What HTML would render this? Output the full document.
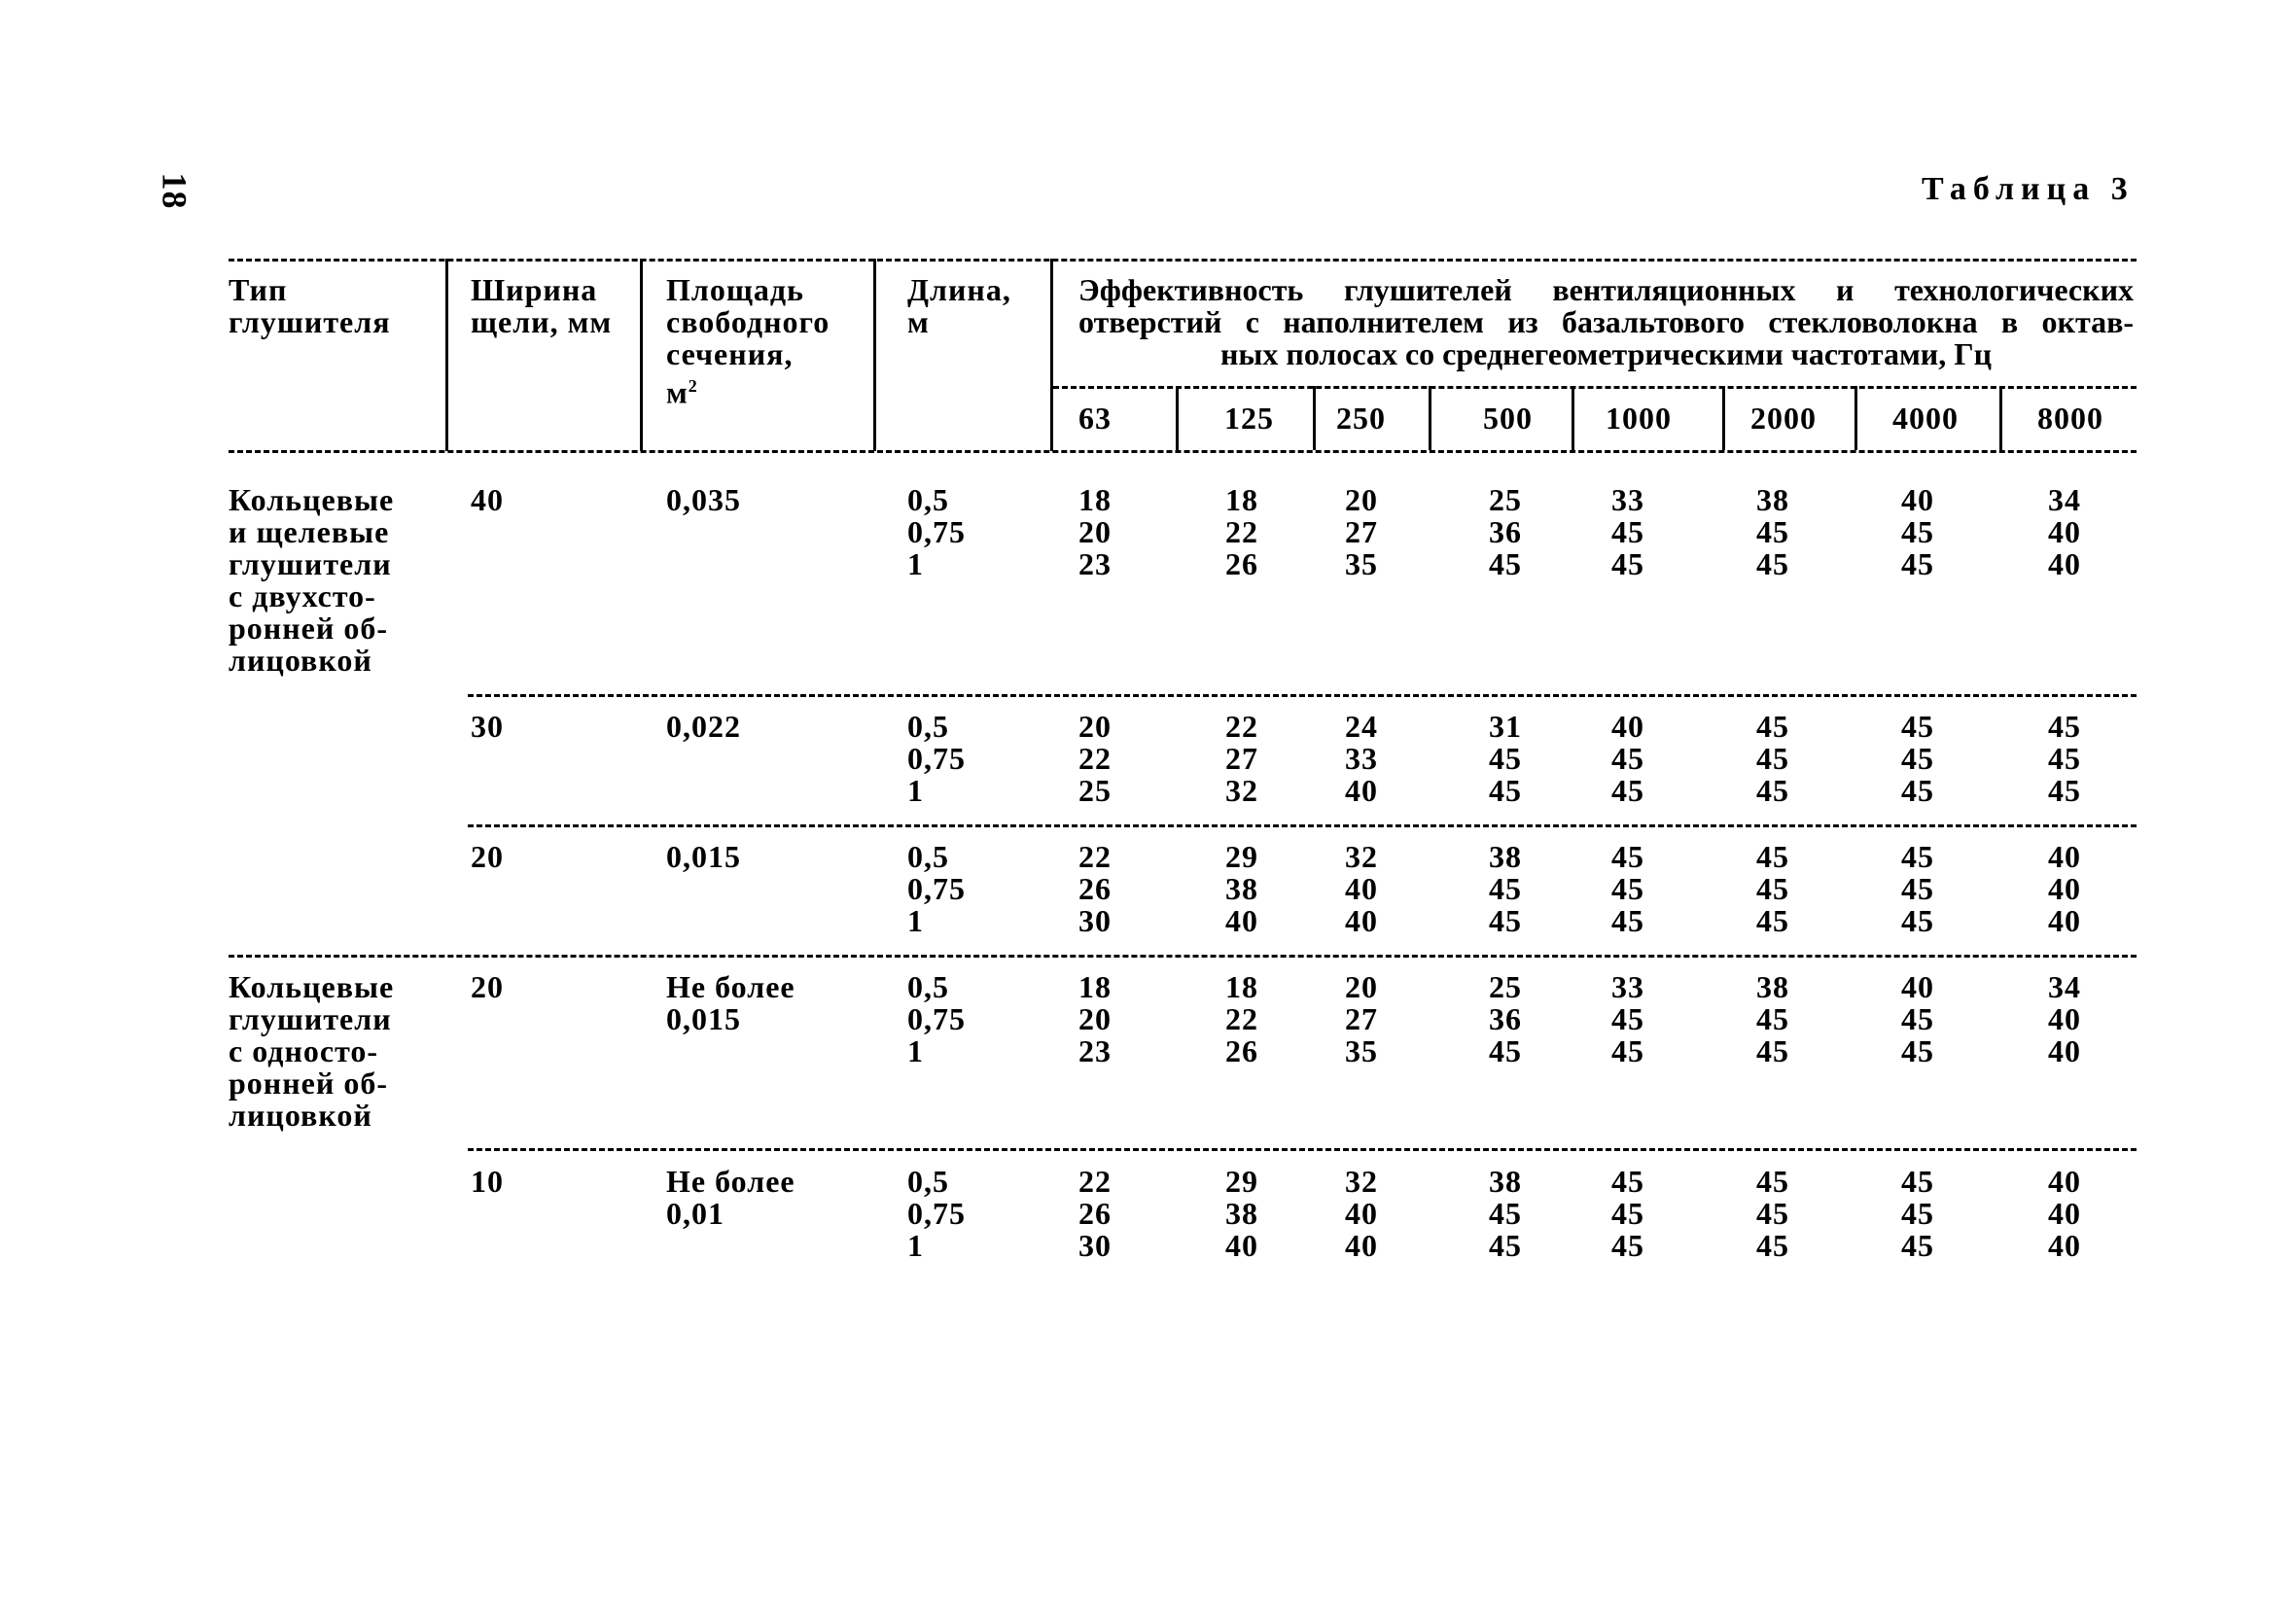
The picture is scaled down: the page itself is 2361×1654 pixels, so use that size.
<!DOCTYPE html>
<html><head><meta charset="utf-8">
<style>
html,body{margin:0;padding:0;background:#fff;}
body{width:2361px;height:1654px;position:relative;overflow:hidden;font-family:"Liberation Serif","Noto Serif CJK SC",serif;color:#000;}
.t{position:absolute;font-size:32px;line-height:33px;white-space:nowrap;letter-spacing:1px;font-weight:bold;}
.hd{position:absolute;height:0;border-top:3px dashed #000;}
.v{position:absolute;width:0;border-left:3px solid #000;}
</style></head><body>
<div class="t" style="left:160px;top:180px;transform:rotate(90deg);font-size:36px;">18</div>
<div class="t" style="left:1976px;top:178px;font-size:34px;letter-spacing:7px;">Таблица 3</div>

<div class="hd" style="left:235px;top:266px;width:1962px;"></div>
<div class="hd" style="left:235px;top:463px;width:1962px;"></div>
<div class="hd" style="left:1083px;top:397px;width:1114px;"></div>
<div class="v" style="left:458px;top:266px;height:198px;"></div>
<div class="v" style="left:658px;top:266px;height:198px;"></div>
<div class="v" style="left:898px;top:266px;height:198px;"></div>
<div class="v" style="left:1080px;top:266px;height:198px;"></div>
<div class="v" style="left:1209px;top:397px;height:66px;"></div>
<div class="v" style="left:1350px;top:397px;height:66px;"></div>
<div class="v" style="left:1469px;top:397px;height:66px;"></div>
<div class="v" style="left:1616px;top:397px;height:66px;"></div>
<div class="v" style="left:1771px;top:397px;height:66px;"></div>
<div class="v" style="left:1907px;top:397px;height:66px;"></div>
<div class="v" style="left:2056px;top:397px;height:66px;"></div>

<div class="t" style="left:235px;top:282px;">Тип<br>глушителя</div>
<div class="t" style="left:484px;top:282px;">Ширина<br>щели, мм</div>
<div class="t" style="left:685px;top:282px;">Площадь<br>свободного<br>сечения,<br>м<sup style="font-size:18px;">2</sup></div>
<div class="t" style="left:933px;top:282px;">Длина,<br>м</div>
<div class="t" style="left:1109px;top:282px;width:1085px;white-space:normal;text-align:justify;text-align-last:justify;letter-spacing:0;">Эффективность глушителей вентиляционных и технологических</div>
<div class="t" style="left:1109px;top:315px;width:1085px;white-space:normal;text-align:justify;text-align-last:justify;letter-spacing:0;">отверстий с наполнителем из базальтового стекловолокна в октав-</div>
<div class="t" style="left:1109px;top:348px;width:1085px;text-align:center;letter-spacing:0;">ных полосах со среднегеометрическими частотами, Гц</div>
<div class="t" style="left:1109px;top:414px;">63</div>
<div class="t" style="left:1259px;top:414px;">125</div>
<div class="t" style="left:1374px;top:414px;">250</div>
<div class="t" style="left:1525px;top:414px;">500</div>
<div class="t" style="left:1651px;top:414px;">1000</div>
<div class="t" style="left:1800px;top:414px;">2000</div>
<div class="t" style="left:1946px;top:414px;">4000</div>
<div class="t" style="left:2095px;top:414px;">8000</div>

<div class="hd" style="left:481px;top:714px;width:1716px;"></div>
<div class="hd" style="left:481px;top:848px;width:1716px;"></div>
<div class="hd" style="left:235px;top:982px;width:1962px;"></div>
<div class="hd" style="left:481px;top:1181px;width:1716px;"></div>

<div class="t" style="left:235px;top:498px;">Кольцевые<br>и щелевые<br>глушители<br>с двухсто-<br>ронней об-<br>лицовкой</div>
<div class="t" style="left:235px;top:999px;">Кольцевые<br>глушители<br>с односто-<br>ронней об-<br>лицовкой</div>

<div class="t" style="left:484px;top:498px;">40</div>
<div class="t" style="left:685px;top:498px;">0,035</div>
<div class="t" style="left:933px;top:498px;">0,5<br>0,75<br>1</div>
<div class="t" style="left:1109px;top:498px;">18<br>20<br>23</div>
<div class="t" style="left:1260px;top:498px;">18<br>22<br>26</div>
<div class="t" style="left:1383px;top:498px;">20<br>27<br>35</div>
<div class="t" style="left:1531px;top:498px;">25<br>36<br>45</div>
<div class="t" style="left:1657px;top:498px;">33<br>45<br>45</div>
<div class="t" style="left:1806px;top:498px;">38<br>45<br>45</div>
<div class="t" style="left:1955px;top:498px;">40<br>45<br>45</div>
<div class="t" style="left:2106px;top:498px;">34<br>40<br>40</div>

<div class="t" style="left:484px;top:731px;">30</div>
<div class="t" style="left:685px;top:731px;">0,022</div>
<div class="t" style="left:933px;top:731px;">0,5<br>0,75<br>1</div>
<div class="t" style="left:1109px;top:731px;">20<br>22<br>25</div>
<div class="t" style="left:1260px;top:731px;">22<br>27<br>32</div>
<div class="t" style="left:1383px;top:731px;">24<br>33<br>40</div>
<div class="t" style="left:1531px;top:731px;">31<br>45<br>45</div>
<div class="t" style="left:1657px;top:731px;">40<br>45<br>45</div>
<div class="t" style="left:1806px;top:731px;">45<br>45<br>45</div>
<div class="t" style="left:1955px;top:731px;">45<br>45<br>45</div>
<div class="t" style="left:2106px;top:731px;">45<br>45<br>45</div>

<div class="t" style="left:484px;top:865px;">20</div>
<div class="t" style="left:685px;top:865px;">0,015</div>
<div class="t" style="left:933px;top:865px;">0,5<br>0,75<br>1</div>
<div class="t" style="left:1109px;top:865px;">22<br>26<br>30</div>
<div class="t" style="left:1260px;top:865px;">29<br>38<br>40</div>
<div class="t" style="left:1383px;top:865px;">32<br>40<br>40</div>
<div class="t" style="left:1531px;top:865px;">38<br>45<br>45</div>
<div class="t" style="left:1657px;top:865px;">45<br>45<br>45</div>
<div class="t" style="left:1806px;top:865px;">45<br>45<br>45</div>
<div class="t" style="left:1955px;top:865px;">45<br>45<br>45</div>
<div class="t" style="left:2106px;top:865px;">40<br>40<br>40</div>

<div class="t" style="left:484px;top:999px;">20</div>
<div class="t" style="left:685px;top:999px;">Не более<br>0,015</div>
<div class="t" style="left:933px;top:999px;">0,5<br>0,75<br>1</div>
<div class="t" style="left:1109px;top:999px;">18<br>20<br>23</div>
<div class="t" style="left:1260px;top:999px;">18<br>22<br>26</div>
<div class="t" style="left:1383px;top:999px;">20<br>27<br>35</div>
<div class="t" style="left:1531px;top:999px;">25<br>36<br>45</div>
<div class="t" style="left:1657px;top:999px;">33<br>45<br>45</div>
<div class="t" style="left:1806px;top:999px;">38<br>45<br>45</div>
<div class="t" style="left:1955px;top:999px;">40<br>45<br>45</div>
<div class="t" style="left:2106px;top:999px;">34<br>40<br>40</div>

<div class="t" style="left:484px;top:1199px;">10</div>
<div class="t" style="left:685px;top:1199px;">Не более<br>0,01</div>
<div class="t" style="left:933px;top:1199px;">0,5<br>0,75<br>1</div>
<div class="t" style="left:1109px;top:1199px;">22<br>26<br>30</div>
<div class="t" style="left:1260px;top:1199px;">29<br>38<br>40</div>
<div class="t" style="left:1383px;top:1199px;">32<br>40<br>40</div>
<div class="t" style="left:1531px;top:1199px;">38<br>45<br>45</div>
<div class="t" style="left:1657px;top:1199px;">45<br>45<br>45</div>
<div class="t" style="left:1806px;top:1199px;">45<br>45<br>45</div>
<div class="t" style="left:1955px;top:1199px;">45<br>45<br>45</div>
<div class="t" style="left:2106px;top:1199px;">40<br>40<br>40</div>
</body></html>
